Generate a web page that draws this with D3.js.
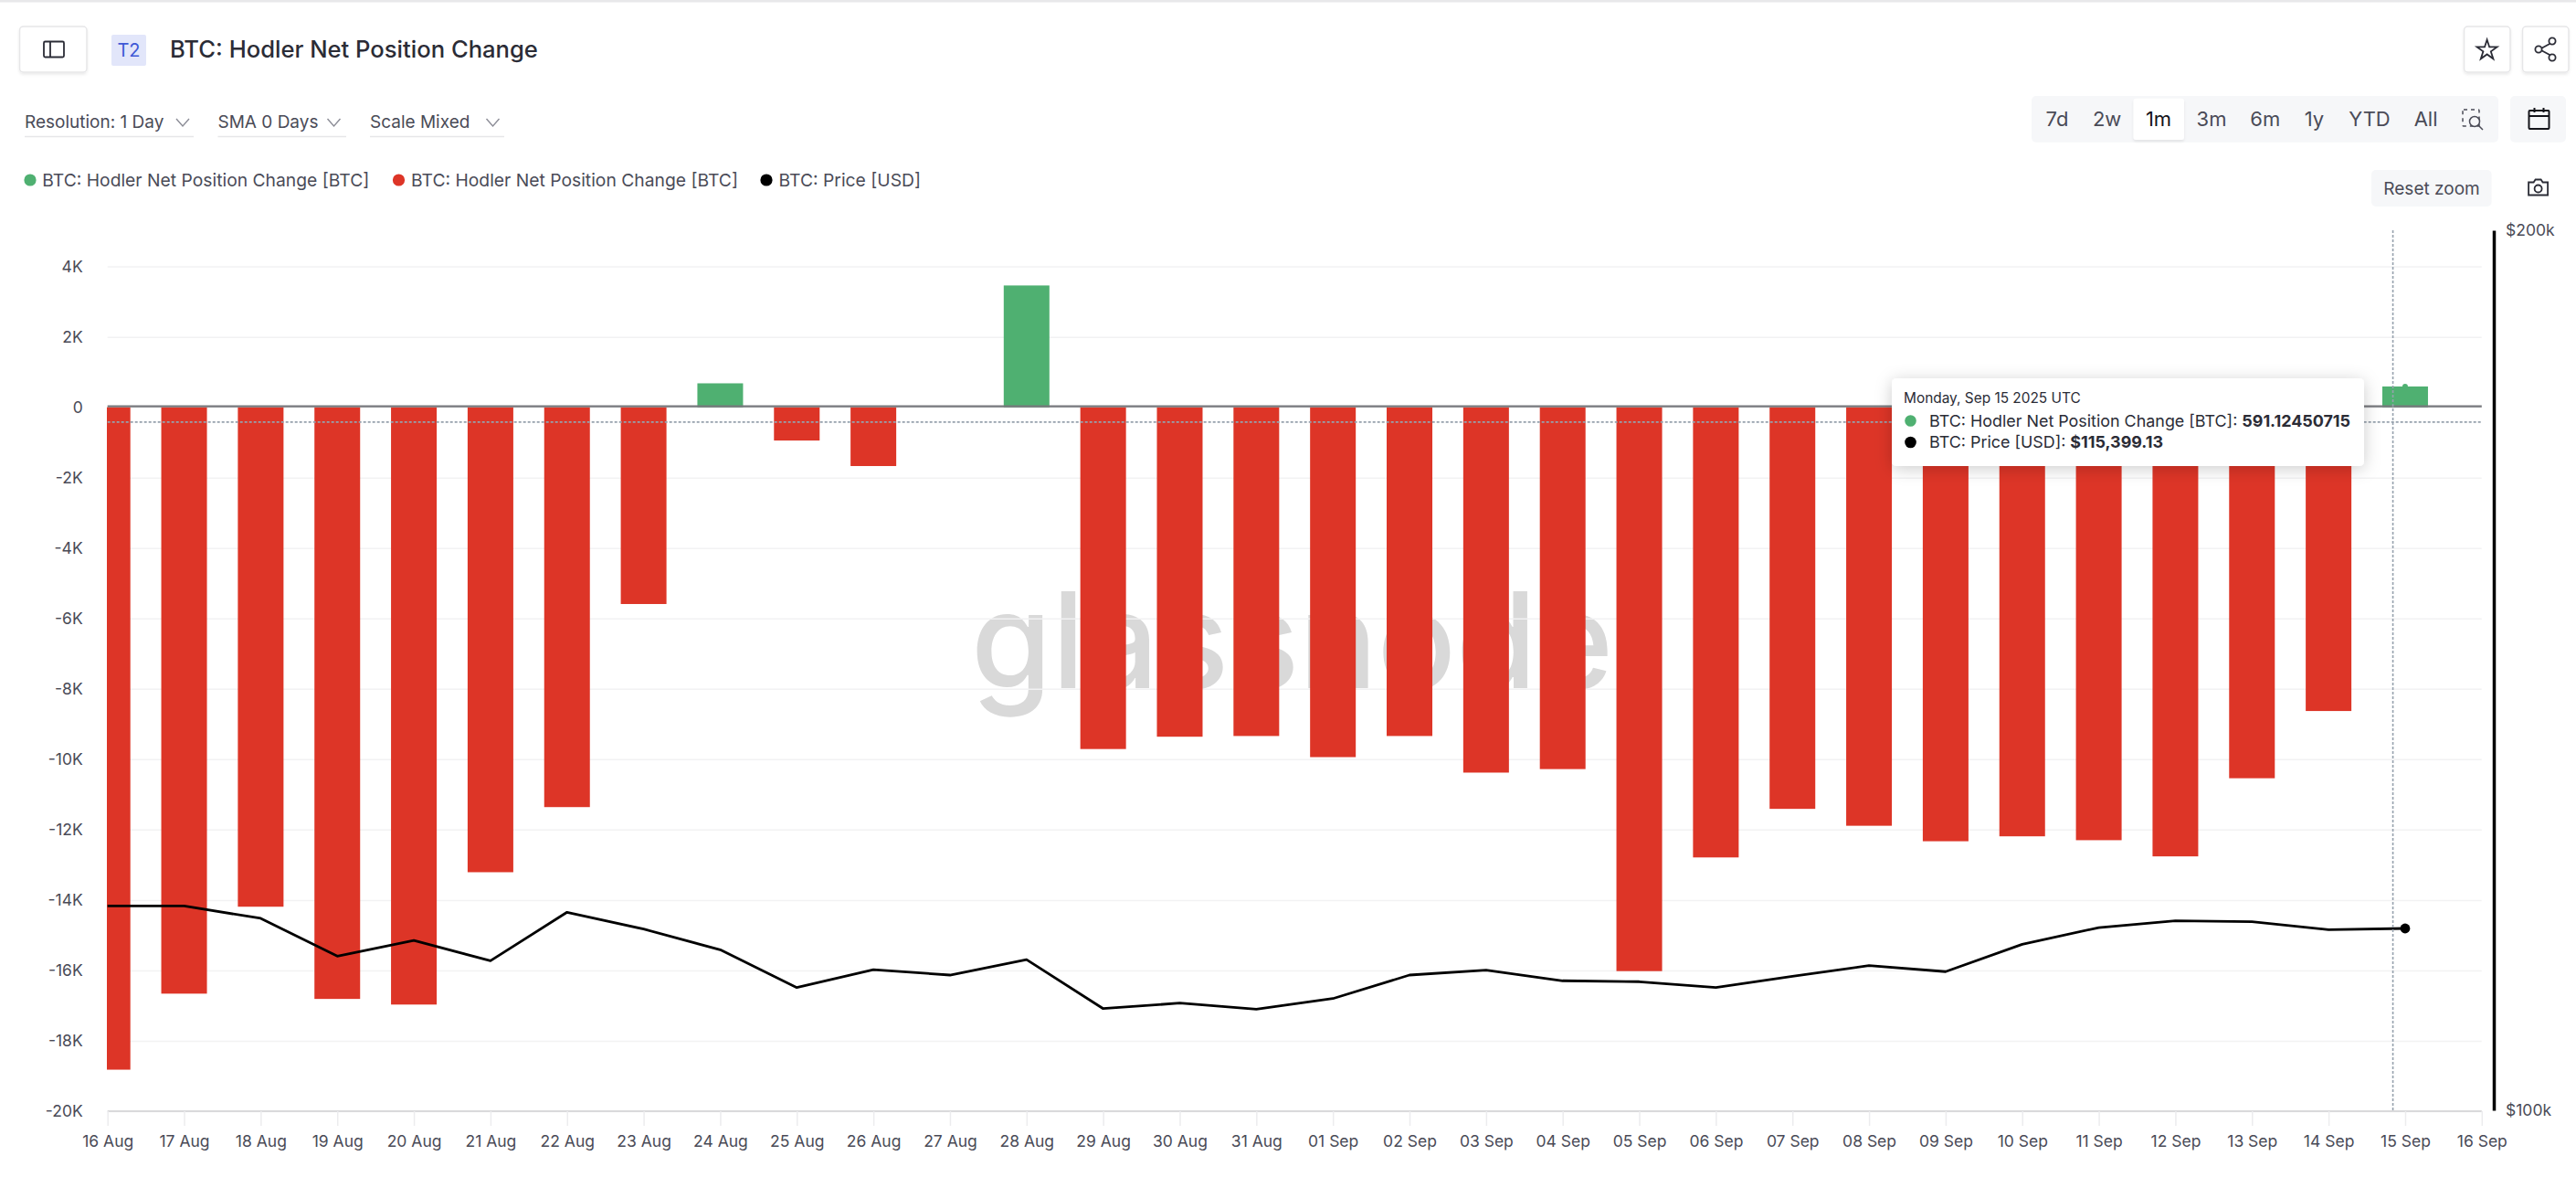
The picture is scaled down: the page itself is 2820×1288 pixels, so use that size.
<!DOCTYPE html>
<html>
<head>
<meta charset="utf-8">
<title>BTC: Hodler Net Position Change</title>
<script src="https://cdn.jsdelivr.net/npm/d3@7"></script>
<style>
    body { margin: 0; background: #fff; }
    svg { display: block; font-family: Inter, "Noto Sans", sans-serif; }
    .axis text { font-size: 17.5px; fill: #4a4b57; font-family: Inter, sans-serif; }
    .axis-y .domain, .axis-x .domain { display: none; }
    .axis-y line { stroke: #f2f2f3; stroke-width: 1.5; }
    .axis-x line { stroke: #ececee; stroke-width: 1.5; }
    .axis-price .domain { stroke: #000; stroke-width: 3.5; }
    .axis-price line { display: none; }
    .icon { fill: none; stroke: #2b2c36; stroke-width: 1.8; }
</style>
</head>
<body>
<div id="chart"></div>
<script>
var dates = ['2025-08-16', '2025-08-17', '2025-08-18', '2025-08-19', '2025-08-20', '2025-08-21', '2025-08-22', '2025-08-23',
    '2025-08-24', '2025-08-25', '2025-08-26', '2025-08-27', '2025-08-28', '2025-08-29', '2025-08-30', '2025-08-31',
    '2025-09-01', '2025-09-02', '2025-09-03', '2025-09-04', '2025-09-05', '2025-09-06', '2025-09-07', '2025-09-08',
    '2025-09-09', '2025-09-10', '2025-09-11', '2025-09-12', '2025-09-13', '2025-09-14', '2025-09-15'];

var netChange = [-18820, -16660, -14190, -16810, -16970, -13210, -11360, -5590,
    680, -945, -1670, 0, 3460, -9710, -9360, -9340,
    -9940, -9340, -10380, -10280, -16020, -12790, -11410, -11890,
    -12330, -12190, -12300, -12760, -10540, -8630, 591.12];

var price = [117460, 117460, 116320, 112910, 114310, 112500, 116880, 115340,
    113480, 110150, 111720, 111240, 112600, 108340, 108810, 108290,
    109200, 111240, 111680, 110740, 110660, 110150, 111140, 112070,
    111540, 113970, 115480, 116090, 116010, 115290, 115399.13];

var yTicks = [4000, 2000, 0, -2000, -4000, -6000, -8000, -10000, -12000, -14000, -16000, -18000, -20000];
var yTickLabels = ['4K', '2K', '0', '-2K', '-4K', '-6K', '-8K', '-10K', '-12K', '-14K', '-16K', '-18K', '-20K'];
var priceTicks = [100000, 200000];
var priceTickLabels = ['$100k', '$200k'];
var rangeLabels = ['7d', '2w', '1m', '3m', '6m', '1y', 'YTD', 'All'];

(function () {
    var green = '#4fb071', red = '#dd3527', text = '#4a4b57', dark = '#2b2c36';
    var parse = d3.utcParse('%Y-%m-%d');
    var days = dates.map(parse);
    var endDay = d3.utcDay.offset(days[days.length - 1], 1);

    var svg = d3.select('#chart').append('svg').attr('width', 2820).attr('height', 1288);

    var defs = svg.append('defs');
    defs.append('filter').attr('id', 'tipShadow').attr('x', '-10%').attr('y', '-30%').attr('width', '120%').attr('height', '170%')
        .append('feDropShadow').attr('dx', 0).attr('dy', 3).attr('stdDeviation', 9).attr('flood-opacity', 0.2);
    defs.append('filter').attr('id', 'btnShadow').attr('x', '-20%').attr('y', '-20%').attr('width', '140%').attr('height', '150%')
        .append('feDropShadow').attr('dx', 0).attr('dy', 2).attr('stdDeviation', 1.5).attr('flood-opacity', 0.08);
    defs.append('clipPath').attr('id', 'plotClip').append('rect')
        .attr('x', 117).attr('y', 200).attr('width', 2600).attr('height', 1020);

    var x = d3.scaleUtc().domain([days[0], endDay]).range([117.7, 2716.8]);
    var y = d3.scaleLinear().domain([-20000, 4000]).range([1216, 291.6]);
    var yPrice = d3.scaleLog().domain([100000, 200000]).range([1215, 252]);
    var barWidth = 50;

    var label = function (parent, str, px, py, size, color, opts) {
        opts = opts || {};
        return parent.append('text')
            .attr('x', px).attr('y', py)
            .attr('dy', '0.35em')
            .attr('text-anchor', opts.anchor || 'start')
            .attr('font-size', size)
            .attr('font-weight', opts.weight || 400)
            .attr('fill', color)
            .text(str);
    };

    var box = function (parent, x0, y0, x1, y1, fill, opts) {
        opts = opts || {};
        return parent.append('rect')
            .attr('x', x0).attr('y', y0).attr('width', x1 - x0).attr('height', y1 - y0)
            .attr('rx', opts.rx === undefined ? 4 : opts.rx)
            .attr('fill', fill)
            .attr('stroke', opts.stroke || 'none')
            .attr('stroke-width', opts.stroke ? 1.5 : 0)
            .attr('filter', opts.filter || null);
    };

    // page header
    var header = svg.append('g');
    header.append('rect').attr('x', 0).attr('y', 0).attr('width', 2820).attr('height', 2.5).attr('fill', '#e8e8ea');
    box(header, 21.5, 29, 95, 79, '#fff', { stroke: '#e6e6e8', filter: 'url(#btnShadow)' });
    header.append('rect').attr('class', 'icon').attr('x', 48).attr('y', 45.5).attr('width', 22).attr('height', 17).attr('rx', 1.5);
    header.append('line').attr('class', 'icon').attr('x1', 55).attr('x2', 55).attr('y1', 45.5).attr('y2', 62.5);

    box(header, 122, 38, 160, 72, '#e2e6fa', { rx: 2 });
    label(header, 'T2', 141, 55, 20, '#4059d6', { anchor: 'middle' });
    label(header, 'BTC: Hodler Net Position Change', 186, 54, 25.6, dark, { weight: 500 });

    box(header, 2697.5, 29, 2748, 79, '#fff', { stroke: '#e6e6e8', filter: 'url(#btnShadow)' });
    box(header, 2761.5, 29, 2812, 79, '#fff', { stroke: '#e6e6e8', filter: 'url(#btnShadow)' });
    header.append('path').attr('class', 'icon')
        .attr('transform', 'translate(2722.6,55)')
        .attr('d', d3.symbol().type(d3.symbolStar).size(150)());
    var share = header.append('g').attr('class', 'icon').attr('transform', 'translate(2786,54)');
    share.append('path').attr('d', 'M-6,0L7,-7M-6,0L7,7');
    [[-7, 0], [8, -9], [8, 9]].forEach(function (p) {
        share.append('circle').attr('cx', p[0]).attr('cy', p[1]).attr('r', 3.6).attr('fill', '#fff');
    });

    // filter dropdowns
    var filters = [
        { name: 'Resolution: 1 Day', x0: 27, x1: 212, chevron: 200 },
        { name: 'SMA 0 Days', x0: 238.5, x1: 379, chevron: 365.5 },
        { name: 'Scale Mixed', x0: 405, x1: 552, chevron: 539.5 }
    ];
    filters.forEach(function (f) {
        label(header, f.name, f.x0, 133, 19, text);
        header.append('path').attr('fill', 'none').attr('stroke', '#8b8c96').attr('stroke-width', 1.4)
            .attr('d', 'M' + (f.chevron - 7) + ',130L' + f.chevron + ',138L' + (f.chevron + 7) + ',130');
        header.append('line').attr('x1', f.x0).attr('x2', f.x1).attr('y1', 149.5).attr('y2', 149.5)
            .attr('stroke', '#e6e6e8').attr('stroke-width', 1.5);
    });

    // range selector
    box(header, 2224, 105, 2735, 155.7, '#f6f7f9', { rx: 5 });
    box(header, 2335.5, 107.7, 2391, 153, '#fff', { rx: 3, filter: 'url(#btnShadow)' });
    var rangeX = [2252, 2306.6, 2363, 2421, 2479.7, 2533.4, 2594, 2655.6];
    rangeLabels.forEach(function (r, i) {
        label(header, r, rangeX[i], 130, 22, r === '1m' ? '#14141a' : text, { anchor: 'middle' });
    });
    var zoomIcon = header.append('g').attr('fill', 'none').attr('stroke', text).attr('stroke-width', 1.5)
        .attr('transform', 'translate(2707,130)');
    zoomIcon.append('rect').attr('x', -11).attr('y', -10).attr('width', 18).attr('height', 18).attr('stroke-dasharray', '4,4').attr('rx', 1);
    zoomIcon.append('circle').attr('cx', 2).attr('cy', 3).attr('r', 5.5).attr('fill', '#f6f7f9');
    zoomIcon.append('line').attr('x1', 6).attr('y1', 7).attr('x2', 11).attr('y2', 12);

    box(header, 2748, 105, 2809, 155.7, '#f6f7f9', { rx: 5 });
    var cal = header.append('g').attr('fill', 'none').attr('stroke', '#14141a').attr('stroke-width', 2)
        .attr('transform', 'translate(2779.5,130)');
    cal.append('rect').attr('x', -11).attr('y', -9).attr('width', 22).attr('height', 20).attr('rx', 1);
    cal.append('path').attr('d', 'M-11,-3H11M-5,-12V-7M5,-12V-7');

    box(header, 2596, 186, 2727.6, 226, '#f6f7f9', { rx: 5 });
    label(header, 'Reset zoom', 2662, 206, 19, text, { anchor: 'middle' });
    var cam = header.append('g').attr('class', 'icon').attr('transform', 'translate(2778.6,205.5)');
    cam.append('path').attr('d', 'M-10.5,-6H-5L-3,-9H3L5,-6H10.5V8H-10.5Z');
    cam.append('circle').attr('cx', 0).attr('cy', 1).attr('r', 4);

    // legend
    var legend = [
        { name: 'BTC: Hodler Net Position Change [BTC]', color: green, dot: 33, textX: 46.3 },
        { name: 'BTC: Hodler Net Position Change [BTC]', color: red, dot: 436.5, textX: 450 },
        { name: 'BTC: Price [USD]', color: '#000', dot: 839, textX: 852.6 }
    ];
    legend.forEach(function (l) {
        header.append('circle').attr('cx', l.dot).attr('cy', 197).attr('r', 6.6).attr('fill', l.color);
        label(header, l.name, l.textX, 197, 19.3, text);
    });

    // watermark sits behind the plot
    svg.append('text')
        .attr('x', 1063).attr('y', 753)
        .attr('font-size', 146)
        .attr('font-weight', 500)
        .attr('fill', '#d9d9d9')
        .attr('textLength', 703)
        .attr('lengthAdjust', 'spacingAndGlyphs')
        .text('glassnode');

    // axes
    svg.append('g')
        .attr('class', 'axis axis-y')
        .attr('transform', 'translate(117.7,0)')
        .call(d3.axisLeft(y)
            .tickValues(yTicks)
            .tickFormat(function (d, i) { return yTickLabels[i]; })
            .tickSize(-2599)
            .tickPadding(27));

    var tickDays = days.concat([endDay]);
    svg.append('line')
        .attr('x1', x.range()[0]).attr('x2', x.range()[1])
        .attr('y1', y(-20000)).attr('y2', y(-20000))
        .attr('stroke', '#d9d9db').attr('stroke-width', 2.2);
    svg.append('g')
        .attr('class', 'axis axis-x')
        .attr('transform', 'translate(0,' + y(-20000) + ')')
        .call(d3.axisBottom(x)
            .tickValues(tickDays)
            .tickFormat(d3.utcFormat('%d %b'))
            .tickSize(16)
            .tickPadding(11));

    svg.append('g')
        .attr('class', 'axis axis-price')
        .attr('transform', 'translate(2730,0)')
        .call(d3.axisRight(yPrice)
            .tickValues(priceTicks)
            .tickFormat(function (d, i) { return priceTickLabels[i]; })
            .tickSizeOuter(0)
            .tickSize(0)
            .tickPadding(13));

    // bars
    svg.append('g')
        .attr('clip-path', 'url(#plotClip)')
        .selectAll('rect')
        .data(netChange)
        .join('rect')
        .attr('x', function (d, i) { return x(days[i]) - barWidth / 2; })
        .attr('width', barWidth)
        .attr('y', function (d) { return Math.min(y(d), y(0)); })
        .attr('height', function (d) { return Math.abs(y(d) - y(0)); })
        .attr('fill', function (d) { return d >= 0 ? green : red; });

    svg.append('line')
        .attr('x1', x.range()[0]).attr('x2', x.range()[1])
        .attr('y1', y(0) - 1).attr('y2', y(0) - 1)
        .attr('stroke', '#77787c').attr('stroke-width', 2.2);

    // price line
    var priceLine = d3.line()
        .x(function (d, i) { return x(days[i]); })
        .y(function (d) { return yPrice(d); });

    svg.append('path')
        .datum(price)
        .attr('d', priceLine)
        .attr('fill', 'none')
        .attr('stroke', '#000')
        .attr('stroke-width', 2.8)
        .attr('stroke-linejoin', 'round');

    // hover crosshair
    var hoverDay = new Date(Date.UTC(2025, 8, 14, 20, 10));
    var hoverValue = -420;
    svg.append('line')
        .attr('x1', x(hoverDay)).attr('x2', x(hoverDay))
        .attr('y1', yPrice(200000)).attr('y2', y(-20000))
        .attr('stroke', '#96a1ad').attr('stroke-width', 1.6).attr('stroke-dasharray', '3,2');
    svg.append('line')
        .attr('x1', x.range()[0]).attr('x2', x.range()[1])
        .attr('y1', y(hoverValue)).attr('y2', y(hoverValue))
        .attr('stroke', '#96a1ad').attr('stroke-width', 1.6).attr('stroke-dasharray', '3,2');

    var last = days.length - 1;
    svg.append('circle')
        .attr('cx', x(days[last])).attr('cy', yPrice(price[last])).attr('r', 5.4).attr('fill', '#000');
    svg.append('circle')
        .attr('cx', x(days[last])).attr('cy', y(netChange[last])).attr('r', 3).attr('fill', green);

    // tooltip
    var tip = svg.append('g');
    box(tip, 2071, 414, 2588, 510, '#fff', { rx: 5, filter: 'url(#tipShadow)' });
    label(tip, 'Monday, Sep 15 2025 UTC', 2084, 436, 15.4, dark);

    tip.append('circle').attr('cx', 2091.5).attr('cy', 460.5).attr('r', 6.3).attr('fill', green);
    var row1 = label(tip, 'BTC: Hodler Net Position Change [BTC]: ', 2112, 461, 17.9, dark);
    row1.append('tspan').attr('font-weight', 700).text('591.12450715');

    tip.append('circle').attr('cx', 2091.5).attr('cy', 484).attr('r', 6.3).attr('fill', '#000');
    var row2 = label(tip, 'BTC: Price [USD]: ', 2112, 484, 17.9, dark);
    row2.append('tspan').attr('font-weight', 700).text('$115,399.13');
})();
</script>
</body>
</html>
